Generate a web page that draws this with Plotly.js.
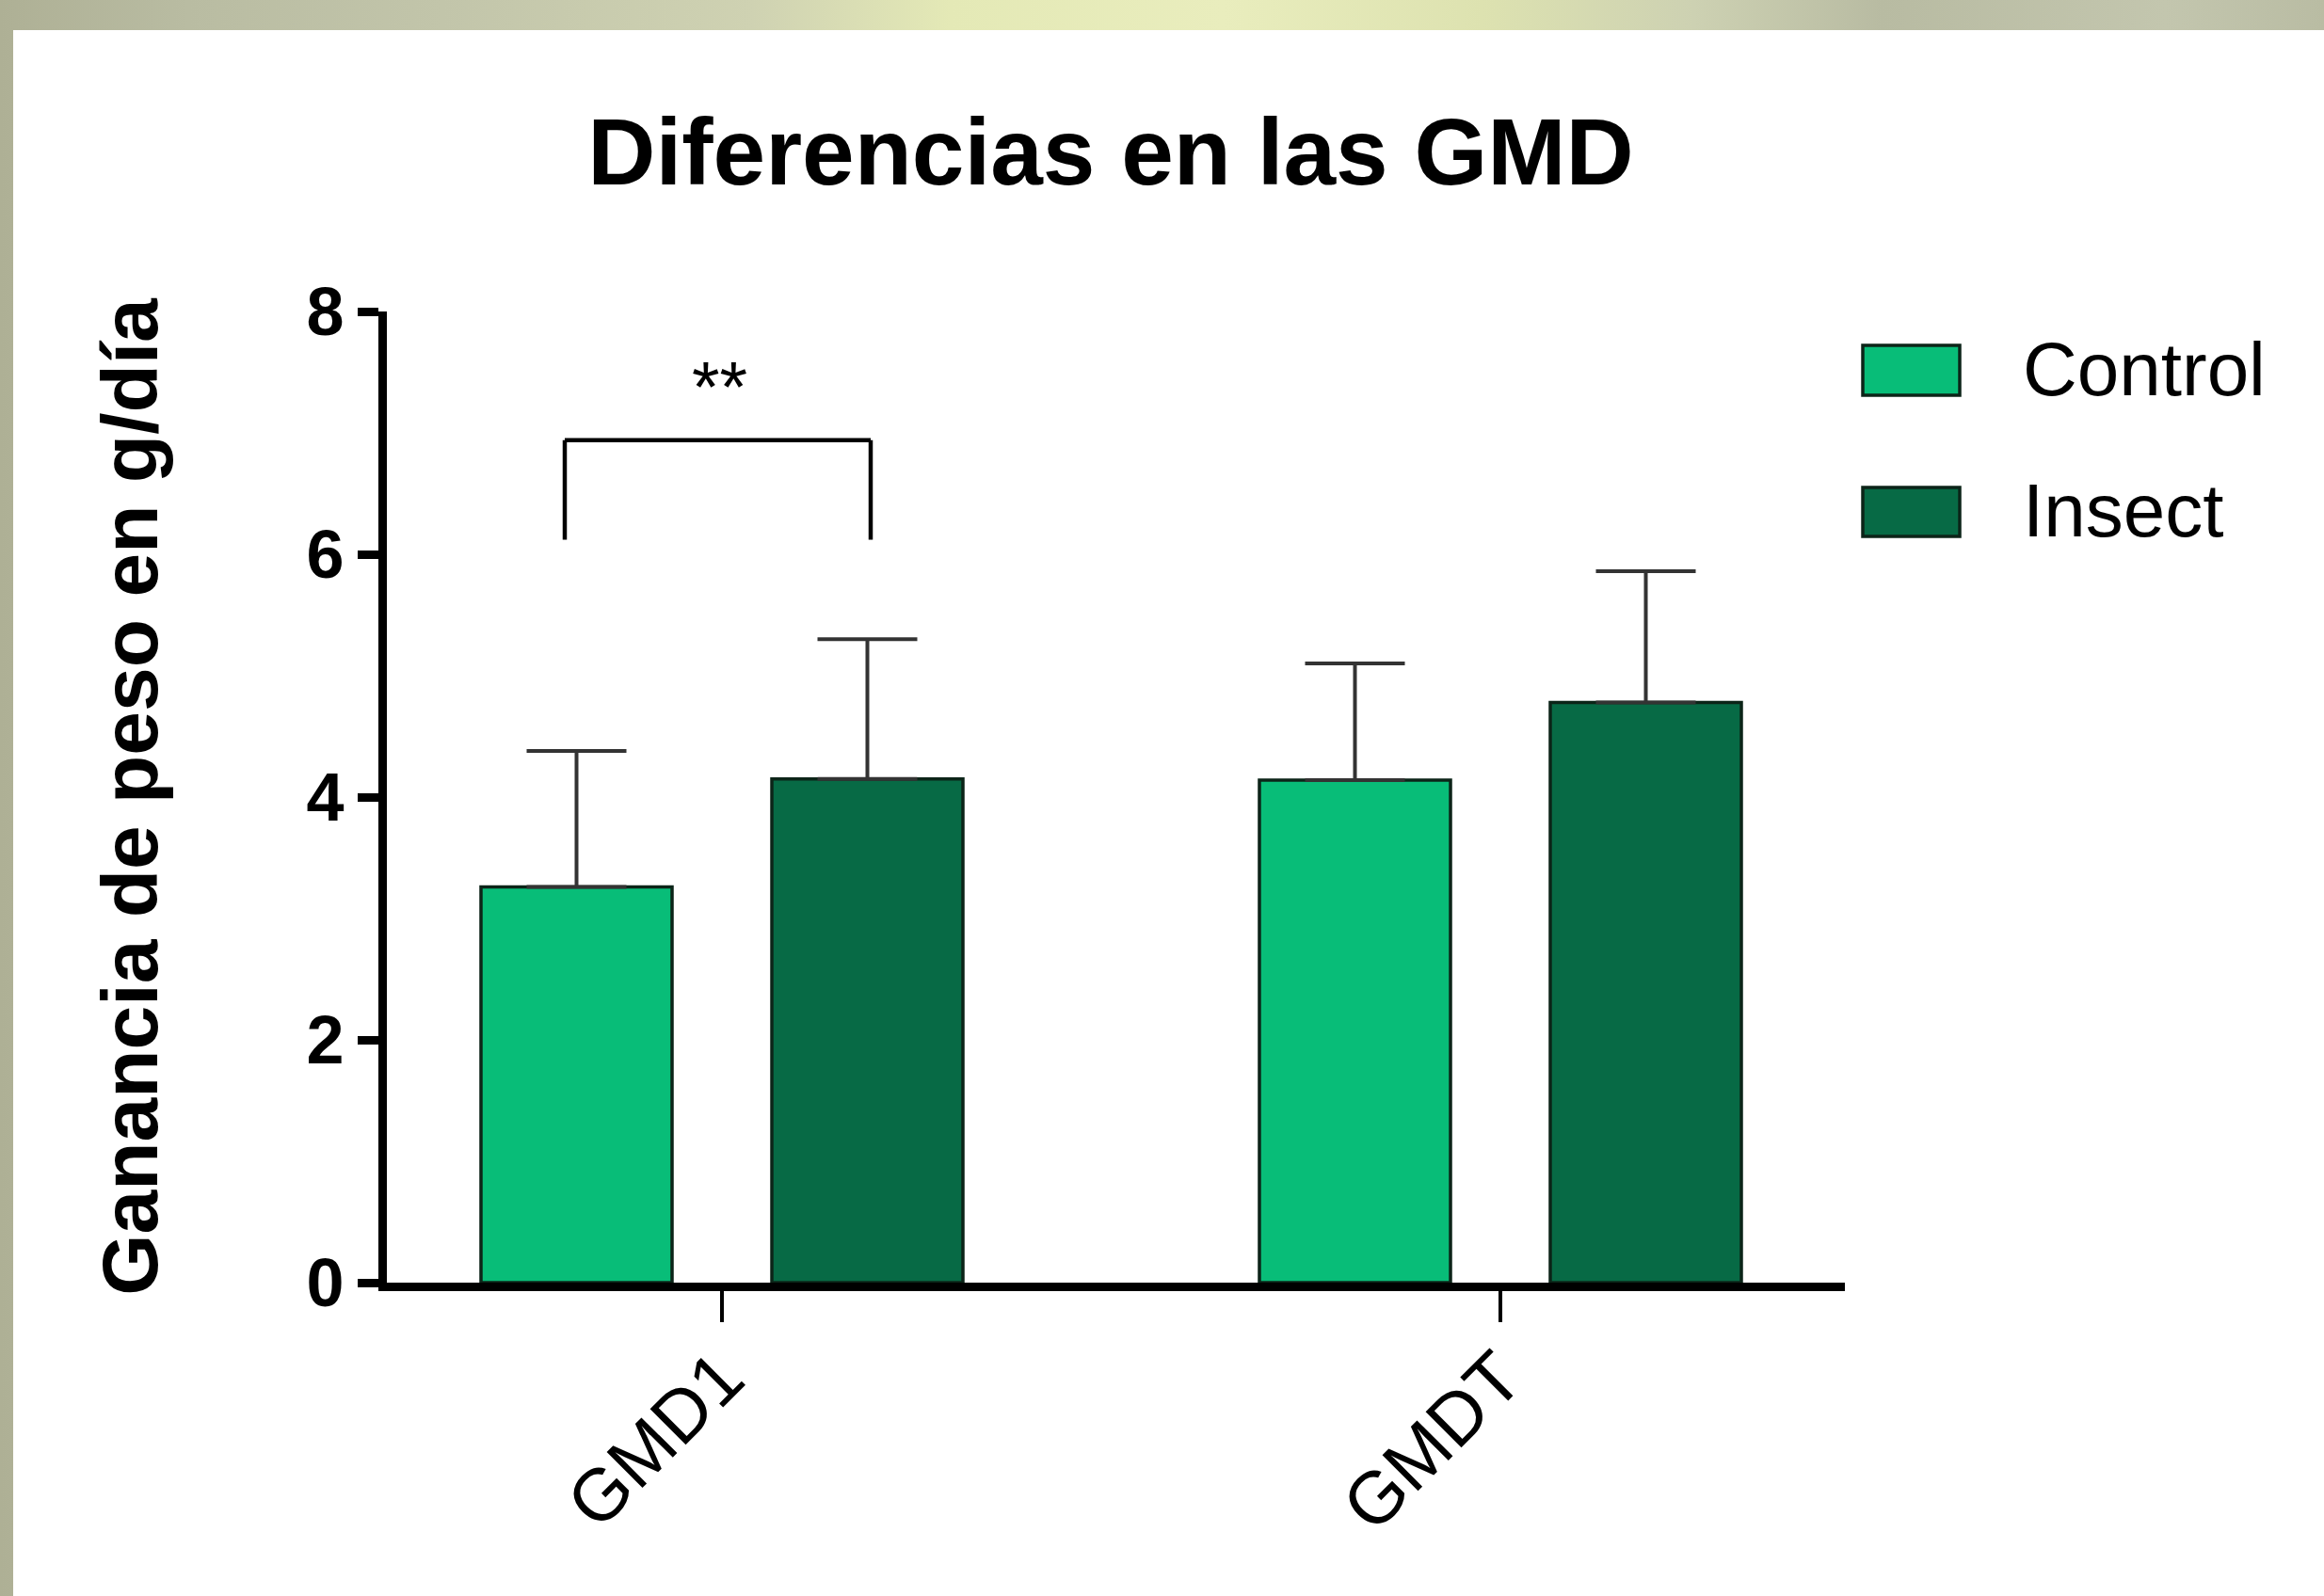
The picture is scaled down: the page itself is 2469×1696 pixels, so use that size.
<!DOCTYPE html>
<html><head><meta charset="utf-8">
<script src="https://cdn.plot.ly/plotly-3.0.1.min.js"></script>
<style>
html,body{margin:0;padding:0;width:2469px;height:1696px;overflow:hidden;}
body{background: linear-gradient(90deg, #aeb095 0px, #b9bca2 200px, #c2c5aa 470px, #cfd2b2 800px, #e4e9b6 1010px, #e9edbd 1300px, #dde2b0 1575px, #cdd1b2 1800px, #b8bba2 2000px, #c3c6ae 2300px, #b9bca3 2469px);}
#chart{position:absolute;left:14px;top:32px;width:2455px;height:1664px;background:#fff;}
</style></head><body><div id="chart"></div>
<script>
// ---- data ----
const categories = ['GMD1', 'GMDT'];
const seriesNames = ['Control', 'Insect'];
const controlMean = [3.26, 4.14];
const controlErr = [1.12, 0.96];
const insectMean = [4.15, 4.78];
const insectErr = [1.15, 1.08];
const yTickVals = [0, 2, 4, 6, 8];
const yTickText = ['0', '2', '4', '6', '8'];
const sigText = '**';
const sigY = [6.12, 6.94];   // bracket leg bottom, bracket top
const chartTitle = 'Diferencias en las GMD';
const yTitle = 'Ganancia de peso en g/día';

// ---- layout geometry (page pixels) ----
const W = 2455, H = 1664, offX = 14, offY = 32;
const plotL = 411, plotR = 1960, plotT = 331, plotB = 1363;
const cat0 = 767, catStep = 827;
const px2x = p => (p - cat0) / catStep;
const paperX = p => (p - plotL) / (plotR - plotL);
const paperY = p => (plotB - p) / (plotB - plotT);

const colors = ['#08bd78', '#076a45'];
const outline = '#0c2418';
const FONT = 'Arial, "Liberation Sans", sans-serif';

const errStyle = {type: 'data', symmetric: false, arrayminus: [0, 0], color: '#333333', thickness: 4, width: 53};

const traces = [
  {type: 'bar', name: seriesNames[0], x: categories, y: controlMean,
   marker: {color: colors[0], line: {color: outline, width: 3.5}},
   error_y: Object.assign({array: controlErr}, errStyle), hoverinfo: 'none'},
  {type: 'bar', name: seriesNames[1], x: categories, y: insectMean,
   marker: {color: colors[1], line: {color: outline, width: 3.5}},
   error_y: Object.assign({array: insectErr}, errStyle), hoverinfo: 'none'}
];

const legL = paperX(1979), legR = paperX(2082);
const shapes = [
  // significance bracket
  {type: 'line', xref: 'x', yref: 'y', x0: px2x(600), x1: px2x(600), y0: sigY[0], y1: sigY[1], line: {color: '#000', width: 4.5}},
  {type: 'line', xref: 'x', yref: 'y', x0: px2x(600), x1: px2x(925), y0: sigY[1], y1: sigY[1], line: {color: '#000', width: 4.5}},
  {type: 'line', xref: 'x', yref: 'y', x0: px2x(925), x1: px2x(925), y0: sigY[1], y1: sigY[0], line: {color: '#000', width: 4.5}},
  // legend swatches
  {type: 'rect', xref: 'paper', yref: 'paper', x0: legL, x1: legR, y0: paperY(420), y1: paperY(367), fillcolor: colors[0], line: {color: outline, width: 3.5}},
  {type: 'rect', xref: 'paper', yref: 'paper', x0: legL, x1: legR, y0: paperY(570), y1: paperY(518), fillcolor: colors[1], line: {color: outline, width: 3.5}}
];

const annotations = [
  {xref: 'x', yref: 'y', x: px2x(764), y: 7.38, text: sigText, showarrow: false,
   font: {family: FONT, size: 76, color: '#000'}, xanchor: 'center', yanchor: 'middle'},
  {xref: 'paper', yref: 'paper', x: paperX(2147), y: paperY(392), text: seriesNames[0], showarrow: false,
   font: {family: FONT, size: 80, color: '#000'}, xanchor: 'left', yanchor: 'middle'},
  {xref: 'paper', yref: 'paper', x: paperX(2147), y: paperY(542), text: seriesNames[1], showarrow: false,
   font: {family: FONT, size: 80, color: '#000'}, xanchor: 'left', yanchor: 'middle'}
];

const layout = {
  width: W, height: H,
  paper_bgcolor: '#ffffff', plot_bgcolor: '#ffffff',
  margin: {l: plotL - offX, r: W - (plotR - offX), t: plotT - offY, b: H - (plotB - offY), pad: 0},
  showlegend: false,
  barmode: 'group', bargap: 0.2527, bargroupgap: 0.343,
  font: {family: FONT, color: '#000'},
  title: {text: chartTitle, font: {family: FONT, size: 100, weight: 'bold', color: '#000'},
          xref: 'container', yref: 'container', x: (1180 - offX) / W, xanchor: 'center',
          y: 1 - (161 - offY) / H, yanchor: 'middle'},
  xaxis: {type: 'category', range: [px2x(plotL), px2x(plotR)], showline: true, linewidth: 9, linecolor: '#000',
          ticks: 'outside', ticklen: 33, tickwidth: 4.5, tickcolor: '#000', tickangle: -45, ticklabelstandoff: -18,
          tickfont: {family: FONT, size: 78, color: '#000'}, showgrid: false, zeroline: false, fixedrange: true},
  yaxis: {range: [0, 8], tickvals: yTickVals, ticktext: yTickText, showline: true, linewidth: 9, linecolor: '#000',
          ticks: 'outside', ticklen: 22, tickwidth: 9, tickcolor: '#000',
          tickfont: {family: FONT, size: 72, weight: 'bold', color: '#000'},
          title: {text: yTitle, font: {family: FONT, size: 84, weight: 'bold', color: '#000'}, standoff: 134},
          showgrid: false, zeroline: false, fixedrange: true},
  shapes: shapes,
  annotations: annotations
};

Plotly.newPlot('chart', traces, layout, {staticPlot: true, displayModeBar: false});
</script></body></html>
